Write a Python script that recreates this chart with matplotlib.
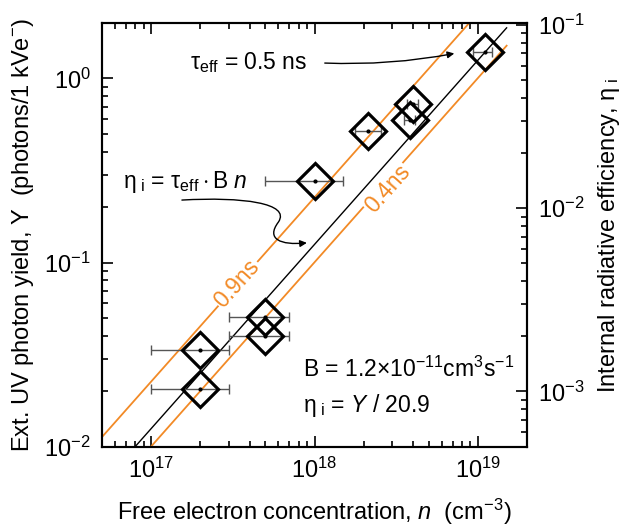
import numpy as np
import matplotlib
matplotlib.use("Agg")
import matplotlib.pyplot as plt
from matplotlib.patches import FancyArrowPatch
from matplotlib.path import Path

plt.rcParams['font.family'] = ['Liberation Sans', 'DejaVu Sans']
plt.rcParams['mathtext.fontset'] = 'custom'
plt.rcParams['mathtext.rm'] = 'Liberation Sans'
plt.rcParams['mathtext.it'] = 'Liberation Sans:italic'
plt.rcParams['mathtext.bf'] = 'Liberation Sans:bold'

# ---- data ----
n_vals = [2e17, 2e17, 5e17, 5e17, 1e18, 2.12e18, 4.0e18, 3.85e18, 1.10e19]
Y_vals = [0.0335, 0.0205, 0.0508, 0.0399, 0.277, 0.518, 0.726, 0.594, 1.39]
n_lo = [1e17, 1e17, 3.0e17, 3.0e17, 5.0e17, 1.77e18, 3.7e18, 3.55e18, 9.3e18]
n_hi = [3e17, 3e17, 7.0e17, 7.0e17, 1.49e18, 2.55e18, 4.3e18, 4.15e18, 1.22e19]

B = 1.2e-11
conv = 20.9
taus = [0.9e-9, 0.5e-9, 0.4e-9]
tau_colors = ['#f28a26', 'black', '#f28a26']
line_n = [4e16, 1.5e19]

orange = '#f28a26'
FS = 17
AFS = 16.5

fig = plt.figure(figsize=(6.22, 5.31), dpi=100)
ax = fig.add_axes([0.164, 0.1588, 0.6833, 0.798])
ax.set_xscale('log')
ax.set_yscale('log')
ax.set_xlim(5e16, 2e19)
ax.set_ylim(0.01, 2.0)

n_arr = np.array(n_vals)
Y_arr = np.array(Y_vals)
xerr = [n_arr - np.array(n_lo), np.array(n_hi) - n_arr]

# model lines
ln = np.array(line_n)
for tau, c in zip(taus, tau_colors):
    ax.plot(ln, conv * tau * B * ln, color=c, lw=1.0 if c == 'black' else 1.3, zorder=2)

# error bars
ax.errorbar(n_arr, Y_arr, xerr=xerr, fmt='none', ecolor='#555555', elinewidth=1.0,
            capsize=3.6, capthick=1.0, zorder=3)
# diamonds
ax.plot(n_arr, Y_arr, 'D', ms=18.5, mfc='none', mec='black', mew=2.3, zorder=4)
ax.plot(n_arr, Y_arr, 'o', ms=2, color='black', zorder=5)

# rotation of lines in display space
p1 = ax.transData.transform((1e17, 0.01))
p2 = ax.transData.transform((1e18, 0.1))
ang = np.degrees(np.arctan2(p2[1] - p1[1], p2[0] - p1[0]))

def inline_label(nx, tau, txt, dx=0, dy=0):
    ax.annotate(txt, xy=(nx, conv * tau * B * nx), xytext=(dx, dy), textcoords='offset points',
                rotation=ang, ha='center', va='center', color=orange, fontsize=AFS,
                bbox=dict(boxstyle='square,pad=0.05', fc='white', ec='none'), zorder=2.5)

inline_label(3.3e17, 0.9e-9, '0.9ns', dx=1, dy=2)
inline_label(2.64e18, 0.4e-9, '0.4ns', dx=3, dy=-3)

# annotations
ax.text(0.207, 0.9056, r'τ$_{\rm eff}$ = 0.5 ns', transform=ax.transAxes,
        fontsize=AFS, ha='left', va='center')
arr1 = FancyArrowPatch((0.5176, 0.9056), (0.8353, 0.9292), transform=ax.transAxes,
                       connectionstyle='arc3,rad=0.06', arrowstyle='-|>', mutation_scale=10,
                       lw=1.0, color='black', zorder=6)
ax.add_patch(arr1)

ax.text(0.049, 0.624, r'η$_{\rm\ i}$ = τ$_{\rm eff}\cdot$B $n$', transform=ax.transAxes,
        fontsize=AFS, ha='left', va='center')
verts = [(0.188, 0.582),
         (0.33, 0.590), (0.445, 0.575), (0.415, 0.530),
         (0.385, 0.490), (0.42, 0.475), (0.482, 0.481)]
codes = [Path.MOVETO, Path.CURVE4, Path.CURVE4, Path.CURVE4,
         Path.CURVE4, Path.CURVE4, Path.CURVE4]
arr2 = FancyArrowPatch(path=Path(verts, codes), transform=ax.transAxes,
                       arrowstyle='-|>', mutation_scale=10, lw=1.0, color='black', zorder=6)
ax.add_patch(arr2)

ax.text(0.473, 0.1817, r'B = 1.2$\times$10$^{-11}$cm$^3$s$^{-1}$', transform=ax.transAxes,
        fontsize=AFS, ha='left', va='center')
ax.text(0.473, 0.098, r'η$_{\rm\ i}$ = $Y$ / 20.9', transform=ax.transAxes,
        fontsize=AFS, ha='left', va='center')

# axes styling
for s in ax.spines.values():
    s.set_linewidth(1.5)
ax.tick_params(which='both', direction='in', top=True, right=False, labelsize=FS, width=1.2)
ax.tick_params(which='major', length=8)
ax.tick_params(which='minor', length=4.5)
ax.tick_params(axis='y', pad=8)
ax.tick_params(axis='x', pad=8)

ax.set_xlabel(r'Free electron concentration, $n$  (cm$^{-3}$)', fontsize=FS, labelpad=10)
ax.set_ylabel(r'Ext. UV photon yield, Y  (photons/1 kVe$^{-}$)', fontsize=FS, labelpad=6)

ax2 = ax.twinx()
ax2.set_yscale('log')
ax2.set_ylim(5.0e-4, 0.1025)
ax2.tick_params(which='both', direction='in', labelsize=FS, width=1.2, pad=8)
ax2.tick_params(which='major', length=8)
ax2.tick_params(which='minor', length=4.5)
ax2.set_ylabel(r'Internal radiative efficiency, η$_{\rm\ i}$', fontsize=FS, labelpad=8)
for s in ax2.spines.values():
    s.set_linewidth(1.5)

fig.savefig('out.png', dpi=100)
